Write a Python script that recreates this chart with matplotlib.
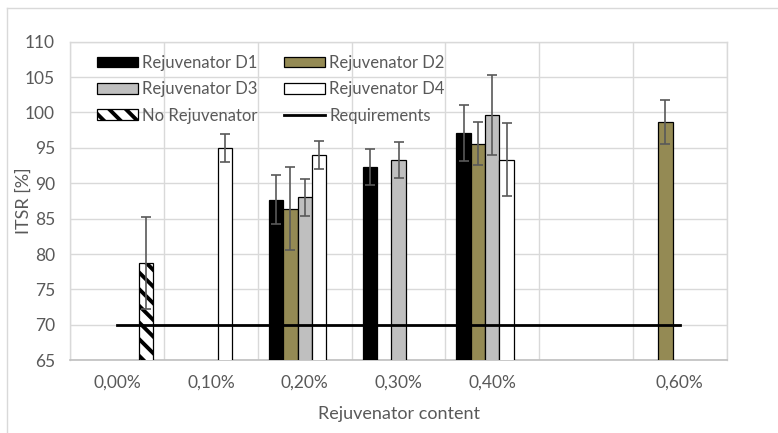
import numpy as np
import matplotlib
matplotlib.use("Agg")
import matplotlib.pyplot as plt
from matplotlib.patches import Patch
from matplotlib.lines import Line2D

plt.rcParams['font.family'] = ['Lato', 'DejaVu Sans']
plt.rcParams['hatch.linewidth'] = 2.8

categories = ['0,00%', '0,10%', '0,20%', '0,30%', '0,40%', '', '0,60%']
nan = np.nan
d1 = [nan, nan, 87.7, 92.3, 97.1, nan, nan]
d1_err = [nan, nan, 3.5, 2.5, 4.0, nan, nan]
d2 = [nan, nan, 86.4, nan, 95.6, nan, 98.7]
d2_err = [nan, nan, 5.85, nan, 3.05, nan, 3.1]
d3 = [nan, nan, 88.0, 93.3, 99.7, nan, nan]
d3_err = [nan, nan, 2.6, 2.5, 5.65, nan, nan]
d4 = [nan, 95.0, 94.0, nan, 93.3, nan, nan]
d4_err = [nan, 2.0, 2.0, nan, 5.15, nan, nan]
no_rej = [78.7, nan, nan, nan, nan, nan, nan]
no_rej_err = [6.5, nan, nan, nan, nan, nan, nan]
requirements = [70, 70, 70, 70, 70, 70, 70]

W, H = 778, 433
fig = plt.figure(figsize=(W / 100, H / 100), dpi=100)
ax = fig.add_axes([70.3 / W, 1 - 360.3 / H, (726.7 - 70.3) / W, (360.3 - 41.7) / H])

x = np.arange(len(categories))
bw = 0.1527
series = [
    (d1, d1_err, dict(color='black', edgecolor='black'), 'Rejuvenator D1'),
    (d2, d2_err, dict(color='#948A54', edgecolor='black'), 'Rejuvenator D2'),
    (d3, d3_err, dict(color='#BFBFBF', edgecolor='black'), 'Rejuvenator D3'),
    (d4, d4_err, dict(color='white', edgecolor='black'), 'Rejuvenator D4'),
    (no_rej, no_rej_err, dict(color='white', edgecolor='black', hatch='\\\\'), 'No Rejuvenator'),
]
handles = {}
for i, (vals, errs, style, label) in enumerate(series):
    pos = x + (i - 2) * bw
    ax.bar(pos, vals, bw, linewidth=0.9, zorder=3, **style)
    ax.errorbar(pos, vals, yerr=errs, fmt='none', ecolor='#595959',
                elinewidth=1.2, capsize=3.4, capthick=1.2, zorder=4)
    handles[label] = Patch(facecolor=style['color'], edgecolor='black',
                           hatch=style.get('hatch'), linewidth=0.9, label=label)

ax.plot(x, requirements, color='black', linewidth=2.0, zorder=5)
handles['Requirements'] = Line2D([], [], color='black', linewidth=2.0, label='Requirements')

ax.set_xlim(-0.5, len(categories) - 0.5)
ax.set_ylim(65, 110)
ax.set_yticks(np.arange(65, 111, 5))
ax.set_xticks(x)
ax.set_xticklabels(categories)
ax.set_xticks(np.arange(-0.5, len(categories), 1), minor=True)
ax.tick_params(axis='both', which='both', length=0, labelsize=12.5, colors='#595959')
ax.tick_params(axis='y', pad=11)
ax.tick_params(axis='x', pad=10)
ax.grid(True, axis='y', which='major', color='#D9D9D9', linewidth=1.0, zorder=0)
ax.grid(True, axis='x', which='minor', color='#D9D9D9', linewidth=1.0, zorder=0)
ax.grid(False, axis='x', which='major')
ax.set_axisbelow(True)
for s in ['left', 'top', 'right']:
    ax.spines[s].set_color('#D9D9D9')
    ax.spines[s].set_linewidth(1.0)
ax.spines['bottom'].set_color('#BFBFBF')
ax.spines['bottom'].set_linewidth(1.2)

ax.set_ylabel('ITSR [%]', fontsize=13, color='#595959')
ax.yaxis.set_label_coords(-(70.3 - 32) / (726.7 - 70.3), 0.5)
ax.set_xlabel('Rejuvenator content', fontsize=13, color='#595959')
ax.xaxis.set_label_coords(0.5, -(406 - 360.3) / (360.3 - 41.7))

order = ['Rejuvenator D1', 'Rejuvenator D3', 'No Rejuvenator',
         'Rejuvenator D2', 'Rejuvenator D4', 'Requirements']
leg = ax.legend([handles[k] for k in order], order, ncol=2, frameon=False,
                loc='upper left', bbox_to_anchor=(97 / W, 1 - 55 / H),
                bbox_transform=fig.transFigure, fontsize=12,
                handlelength=2.45, handleheight=0.6, handletextpad=0.25,
                columnspacing=1.6, labelspacing=0.62, borderpad=0, borderaxespad=0)
for t in leg.get_texts():
    t.set_color('#595959')

# outer chart border
fig.add_artist(Line2D([7 / W, 7 / W], [0, 1 - 8 / H], transform=fig.transFigure,
                      color='#D9D9D9', linewidth=1.0))
fig.add_artist(Line2D([7 / W, 1], [1 - 8 / H, 1 - 8 / H], transform=fig.transFigure,
                      color='#D9D9D9', linewidth=1.0))

fig.savefig('out.png', dpi=100)
